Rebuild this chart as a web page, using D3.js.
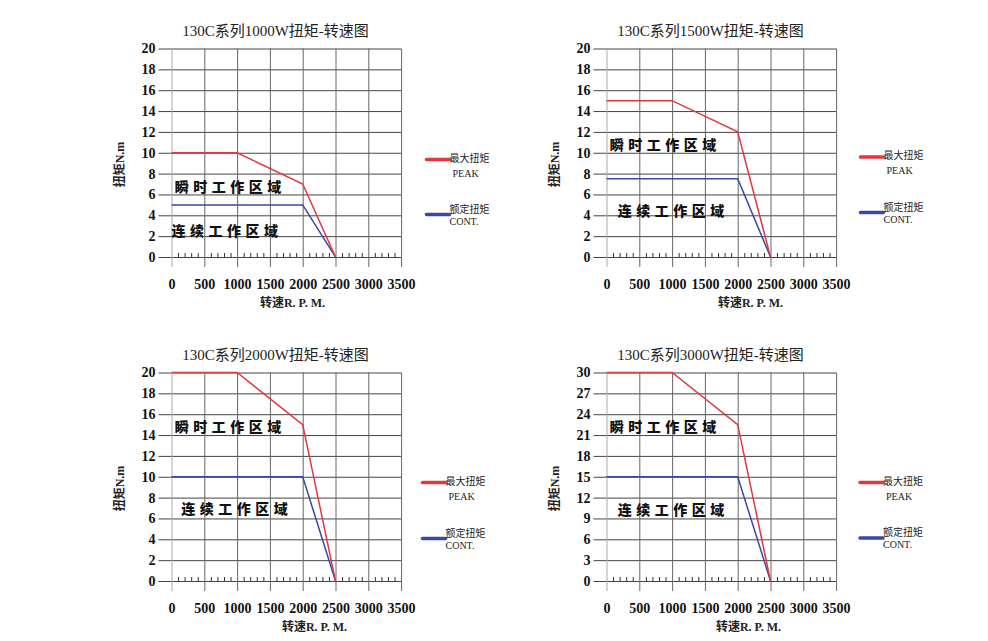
<!DOCTYPE html>
<html>
<head>
<meta charset="utf-8">
<script src="https://cdn.jsdelivr.net/npm/d3@7"></script>
<style>
  body { margin: 0; background: #fff; }
  svg { display: block; }
  .axis text { font-family: "Liberation Serif", "DejaVu Serif", serif; font-weight: bold; font-size: 14px; fill: #111; }
  .title { font-family: "Liberation Serif", "Noto Sans CJK SC", serif; font-size: 15px; fill: #222; }
  .axis-title { font-family: "Liberation Serif", "Noto Sans CJK SC", serif; font-size: 12px; font-weight: bold; fill: #222; }
  .zone { font-family: "Noto Sans CJK SC", sans-serif; font-size: 14px; font-weight: 900; letter-spacing: 4.5px; fill: #111; }
  .legend text { font-family: "Liberation Serif", "Noto Sans CJK SC", serif; font-size: 10px; fill: #222; }
</style>
</head>
<body>
<div id="chart"></div>
<script>
// speed axis (rpm)
const speedTicks = [0, 500, 1000, 1500, 2000, 2500, 3000, 3500];
const torqueTicks20 = [0, 2, 4, 6, 8, 10, 12, 14, 16, 18, 20];
const torqueTicks30 = [0, 3, 6, 9, 12, 15, 18, 21, 24, 27, 30];

const titles = ['130C系列1000W扭矩-转速图', '130C系列1500W扭矩-转速图',
                '130C系列2000W扭矩-转速图', '130C系列3000W扭矩-转速图'];

// peak curve: rpm points and torque per model
const peakRpm = [0, 1000, 2000, 2500];
const peak1000 = [10, 10, 7, 0];
const peak1500 = [15, 15, 12, 0];
const peak2000 = [20, 20, 15, 0];
const peak3000 = [30, 30, 22.5, 0];

// continuous curve
const contRpm = [0, 2000, 2500];
const cont1000 = [5, 5, 0];
const cont1500 = [7.5, 7.5, 0];
const cont2000 = [10, 10, 0];
const cont3000 = [15, 15, 0];

// where the zone captions sit, in [rpm, torque]
const zonePeak = [[50, 6.8], [50, 10.8], [50, 14.9], [50, 22.3]];
const zoneCont = [[0, 2.6], [170, 4.5], [150, 7.0], [170, 10.4]];

const legendLabels = [['最大扭矩', 'PEAK'], ['额定扭矩', 'CONT.']];

const RED = '#e0383f';
const BLUE = '#3a47a6';

const svg = d3.select('#chart').append('svg')
    .attr('width', 988)
    .attr('height', 641);

// layout of the four panels
const panels = [
  {left: 171.5, top: 48.5, yMax: 20, yTicks: torqueTicks20, peak: peak1000, cont: cont1000,
   xLabelDx: 121, legendX: 255, legendY: [111, 166]},
  {left: 606.5, top: 48.5, yMax: 20, yTicks: torqueTicks20, peak: peak1500, cont: cont1500,
   xLabelDx: 144, legendX: 254, legendY: [108.5, 164]},
  {left: 171.5, top: 372.5, yMax: 20, yTicks: torqueTicks20, peak: peak2000, cont: cont2000,
   xLabelDx: 143, legendX: 251, legendY: [110, 166]},
  {left: 606.5, top: 372.5, yMax: 30, yTicks: torqueTicks30, peak: peak3000, cont: cont3000,
   xLabelDx: 142, legendX: 253.5, legendY: [110, 165.5]}
];

const width = 229.6;
const height = 208.5;

panels.forEach((p, i) => {
  const g = svg.append('g').attr('transform', `translate(${p.left},${p.top})`);

  const x = d3.scaleLinear().domain([0, 3500]).range([0, width]);
  const y = d3.scaleLinear().domain([0, p.yMax]).range([height, 0]);

  // horizontal grid + y labels
  const yAxisG = g.append('g').attr('class', 'axis y-axis')
      .call(d3.axisLeft(y).tickValues(p.yTicks).tickSize(13).tickPadding(3));
  yAxisG.select('.domain').remove();
  yAxisG.selectAll('.tick line').attr('x1', -13).attr('x2', width).attr('stroke', '#444');

  // vertical grid + x labels
  const xAxisG = g.append('g').attr('class', 'axis x-axis')
      .attr('transform', `translate(0,${height})`)
      .call(d3.axisBottom(x).tickValues(speedTicks).tickFormat(d3.format('d'))
        .tickSize(10).tickPadding(12));
  xAxisG.select('.domain').remove();
  xAxisG.selectAll('.tick line').attr('y1', 10).attr('y2', -height)
      .attr('stroke', (d) => d === 0 ? '#aaa' : '#666');

  // minor ticks along the zero line
  const minor = d3.range(100, 3500, 100).filter(v => v % 500 !== 0);
  const minorG = g.append('g')
      .attr('transform', `translate(0,${height})`)
      .call(d3.axisBottom(x).tickValues(minor).tickSize(-4).tickFormat(''));
  minorG.select('.domain').remove();
  minorG.selectAll('.tick line').attr('stroke', '#333');

  // curves
  const line = d3.line().x(d => x(d[0])).y(d => y(d[1]));
  g.append('path')
      .datum(contRpm.map((r, k) => [r, p.cont[k]]))
      .attr('d', line).attr('fill', 'none')
      .attr('stroke', BLUE).attr('stroke-width', 1.5);
  g.append('path')
      .datum(peakRpm.map((r, k) => [r, p.peak[k]]))
      .attr('d', line).attr('fill', 'none')
      .attr('stroke', RED).attr('stroke-width', 1.5);

  // zone captions
  g.append('text').attr('class', 'zone')
      .attr('x', x(zonePeak[i][0])).attr('y', y(zonePeak[i][1]))
      .attr('dominant-baseline', 'central')
      .text('瞬时工作区域');
  g.append('text').attr('class', 'zone')
      .attr('x', x(zoneCont[i][0])).attr('y', y(zoneCont[i][1]))
      .attr('dominant-baseline', 'central')
      .text('连续工作区域');

  // titles
  g.append('text').attr('class', 'title')
      .attr('x', 104).attr('y', -13)
      .attr('text-anchor', 'middle')
      .text(titles[i]);

  g.append('text').attr('class', 'axis-title')
      .attr('transform', `translate(-48,116) rotate(-90)`)
      .attr('text-anchor', 'middle')
      .text('扭矩N.m');

  g.append('text').attr('class', 'axis-title')
      .attr('x', p.xLabelDx).attr('y', height + 50)
      .attr('text-anchor', 'middle')
      .text('转速R. P. M.');

  // legend
  const lg = g.append('g').attr('class', 'legend')
      .attr('transform', `translate(${p.legendX},0)`);
  [RED, BLUE].forEach((c, k) => {
    const ly = p.legendY[k];
    lg.append('line')
        .attr('x1', 0).attr('x2', 23).attr('y1', ly).attr('y2', ly)
        .attr('stroke', c).attr('stroke-width', 3.5).attr('stroke-linecap', 'round');
    lg.append('text')
        .attr('x', 23).attr('y', k === 0 ? ly + 2 : ly - 2)
        .text(legendLabels[k][0]);
    lg.append('text')
        .attr('x', k === 0 ? 26 : 23).attr('y', k === 0 ? ly + 17 : ly + 10)
        .text(legendLabels[k][1]);
  });
});
</script>
</body>
</html>
